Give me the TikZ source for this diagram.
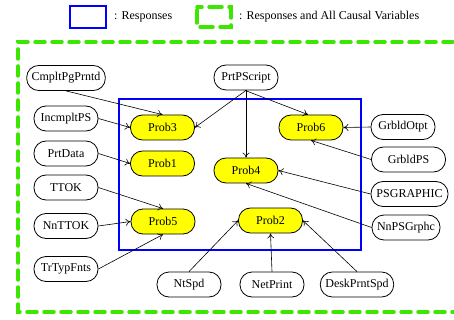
\documentclass[tikz,border=0pt]{standalone}
\usepackage{fontspec}
\setmainfont{Liberation Serif}
\usetikzlibrary{arrows.meta}
\definecolor{grn}{RGB}{60,230,0}
\definecolor{blu}{RGB}{0,0,255}
\definecolor{ylw}{RGB}{255,255,0}
\tikzset{
  var/.style={draw, line width=0.8pt, rectangle, rounded corners=12pt, minimum width=64pt, minimum height=25pt, inner xsep=5pt, font=\fontsize{12}{14}\selectfont},
  resp/.style={var, fill=ylw},
  arr/.style={-{To[length=5pt,width=7pt]}, line width=0.6pt},
  gbox/.style={grn, line width=3.5pt, dash pattern=on 10pt off 7pt, line cap=round},
  bbox/.style={blu, line width=2.2pt},
  leg/.style={font=\fontsize{12}{14}\selectfont, anchor=west, inner sep=0pt}
}
\begin{document}
\begin{tikzpicture}[x=1pt,y=-1pt]
\useasboundingbox (0,0) rectangle (454,320);
% legend
\draw[bbox] (70,6) rectangle (106,28);
\node[leg] (l1) at (114,17) {: Responses};
\draw[gbox, dash pattern=on 13pt off 7pt, dash phase=-3pt] (197,7) rectangle (231,27);
\node[leg] (l2) at (239,17) {: Responses and All Causal Variables};
% big boxes
\draw[gbox] (470,42) -- (18,42) -- (18,312) -- (470,312);
\draw[bbox] (119,99) rectangle (361,250);
% nodes
\node[var, minimum width=78pt] (cmp) at (66,78) {CmpltPgPrntd};
\node[var] (prt) at (246,77.5) {PrtPScript};
\node[var] (inc) at (66,118.5) {IncmpltPS};
\node[var] (pda) at (66,153.5) {PrtData};
\node[var] (ttok) at (66,187.5) {TTOK};
\node[var] (nttok) at (66,226) {NnTTOK};
\node[var] (trt) at (66,269) {TrTypFnts};
\node[var] (gro) at (403,127) {GrbldOtpt};
\node[var, minimum width=74pt] (grp) at (408.5,159.5) {GrbldPS};
\node[var, minimum width=77pt] (psg) at (409.5,194) {PSGRAPHIC};
\node[var] (nps) at (406,227.5) {NnPSGrphc};
\node[var] (nts) at (189,284.5) {NtSpd};
\node[var] (net) at (272,284.5) {NetPrint};
\node[var, minimum width=70pt] (dsk) at (357,284.5) {DeskPrntSpd};
\node[resp] (p3) at (162.5,127.5) {Prob3};
\node[resp] (p1) at (162.5,163.5) {Prob1};
\node[resp] (p5) at (163,221.5) {Prob5};
\node[resp] (p6) at (311,127.5) {Prob6};
\node[resp] (p4) at (246,170.5) {Prob4};
\node[resp] (p2) at (270.5,220.5) {Prob2};
% edges
\draw[arr] (cmp.south) -- (p3.north);
\draw[arr] (inc.east) -- (p3.west);
\draw[arr] (prt.south) -- (p3.east);
\draw[arr] (prt.south) -- (p4.north);
\draw[arr] ([xshift=-1pt]prt.south) -- ([xshift=-3pt]p6.north);
\draw[arr] (gro.west) -- (p6.east);
\draw[arr] (grp.west) -- (p6.south);
\draw[arr] (pda.east) -- (p1.west);
\draw[arr] (psg.west) -- (p4.east);
\draw[arr] (nps.west) -- (p4.south);
\draw[arr] (ttok.east) -- (p5.north);
\draw[arr] (nttok.east) -- (p5.west);
\draw[arr] (trt.east) -- (p5.south);
\draw[arr] (nts.north) -- (p2.west);
\draw[arr] (net.north) -- (p2.south);
\draw[arr] (dsk.north) -- (p2.east);
\end{tikzpicture}
\end{document}
